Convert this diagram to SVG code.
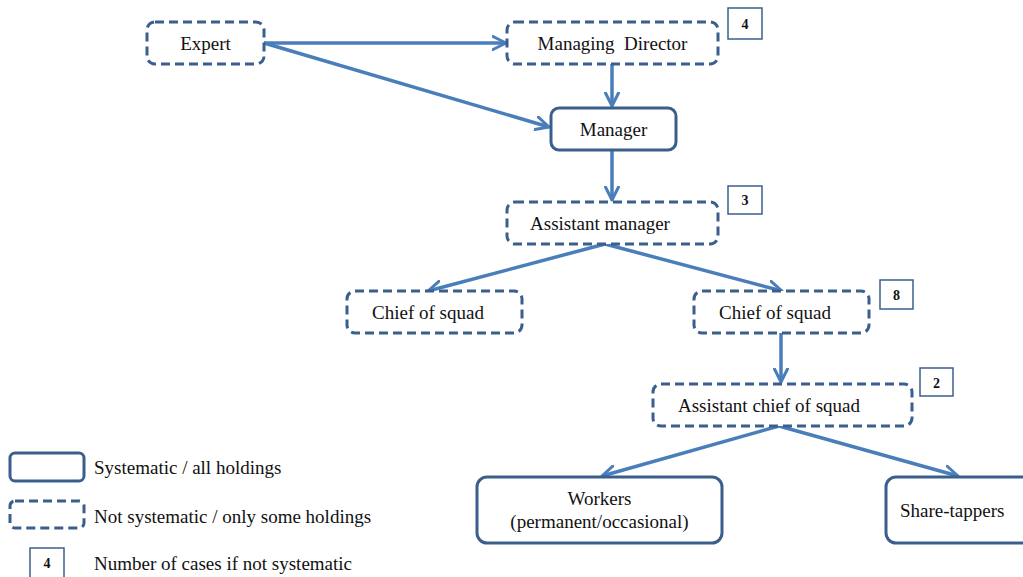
<svg xmlns="http://www.w3.org/2000/svg" width="1023" height="577" viewBox="0 0 1023 577">
<defs>
<marker id="ah2" viewBox="0 0 16 16" refX="14" refY="8" markerWidth="16" markerHeight="16" markerUnits="userSpaceOnUse" orient="auto">
<path d="M1,1.5 L14,8 L1,14.5" fill="none" stroke="#4a7ebb" stroke-width="3" stroke-linecap="round" stroke-linejoin="round"/>
</marker>
</defs>
<style>
.solid{fill:#fff;stroke:#3b5f8d;stroke-width:3}
.dash{fill:#fff;stroke:#3b5f8d;stroke-width:3;stroke-dasharray:9 5}
.num{fill:#fff;stroke:#3b5f8d;stroke-width:1.5}
text{font-family:'Liberation Serif','Times New Roman','DejaVu Serif',serif;fill:#111}
.t{font-size:19px;text-anchor:middle}
.tl{font-size:19px}
.n{font-size:14px;font-weight:bold;text-anchor:middle}
.c{fill:none;stroke:#4a7ebb;stroke-width:3.5;marker-end:url(#ah2)}
</style>
<g id="connectors">
<line class="c" x1="264" y1="43" x2="506" y2="43"/>
<line class="c" x1="264" y1="43" x2="549" y2="127"/>
<line class="c" x1="612" y1="64" x2="612" y2="106"/>
<line class="c" x1="612" y1="150" x2="612" y2="200"/>
<line class="c" x1="605" y1="244" x2="428" y2="291"/>
<line class="c" x1="605" y1="244" x2="782" y2="291"/>
<line class="c" x1="781" y1="333" x2="781" y2="382"/>
<line class="c" x1="779" y1="426" x2="602" y2="476"/>
<line class="c" x1="779" y1="426" x2="958" y2="476"/>
</g>
<g id="expert"><rect class="dash" x="147" y="22" width="117" height="42" rx="8"/><text class="t" x="205.5" y="50">Expert</text></g>
<g id="managing-director"><rect class="dash" x="507" y="22" width="211" height="42" rx="8"/><text class="t" x="612.5" y="50" xml:space="preserve">Managing  Director</text></g>
<g id="num-md"><rect class="num" x="728" y="8" width="34" height="31"/><text class="n" x="745" y="29">4</text></g>
<g id="manager"><rect class="solid" x="551" y="108" width="125" height="42" rx="8"/><text class="t" x="613.5" y="136">Manager</text></g>
<g id="assistant-manager"><rect class="dash" x="507" y="202" width="211" height="42" rx="8"/><text class="t" x="600" y="230">Assistant manager</text></g>
<g id="num-am"><rect class="num" x="728" y="186" width="34" height="28"/><text class="n" x="745" y="205">3</text></g>
<g id="chief-left"><rect class="dash" x="347" y="291" width="175" height="42" rx="8"/><text class="t" x="428" y="319">Chief of squad</text></g>
<g id="chief-right"><rect class="dash" x="694" y="291" width="175" height="42" rx="8"/><text class="t" x="775" y="319">Chief of squad</text></g>
<g id="num-cr"><rect class="num" x="880" y="280" width="33" height="29"/><text class="n" x="896.5" y="300">8</text></g>
<g id="assistant-chief"><rect class="dash" x="653" y="384" width="259" height="42" rx="8"/><text class="t" x="769" y="412">Assistant chief of squad</text></g>
<g id="num-ac"><rect class="num" x="920" y="368" width="33" height="28"/><text class="n" x="936.5" y="388">2</text></g>
<g id="workers"><rect class="solid" x="477" y="477" width="245" height="66" rx="10"/><text class="t" x="599.5" y="505">Workers</text><text class="t" x="599.5" y="528">(permanent/occasional)</text></g>
<g id="share-tappers"><rect class="solid" x="886" y="477" width="150" height="66" rx="10"/><text class="tl" x="900" y="517">Share-tappers</text></g>
<g id="legend">
<rect class="solid" x="10" y="453" width="74" height="28" rx="5"/>
<text class="tl" x="94" y="474">Systematic / all holdings</text>
<rect class="dash" x="10" y="501" width="74" height="27" rx="5"/>
<text class="tl" x="94" y="523">Not systematic / only some holdings</text>
<rect class="num" x="30" y="548" width="34" height="30"/>
<text class="n" x="47" y="568">4</text>
<text class="tl" x="94" y="570">Number of cases if not systematic</text>
</g>
</svg>
